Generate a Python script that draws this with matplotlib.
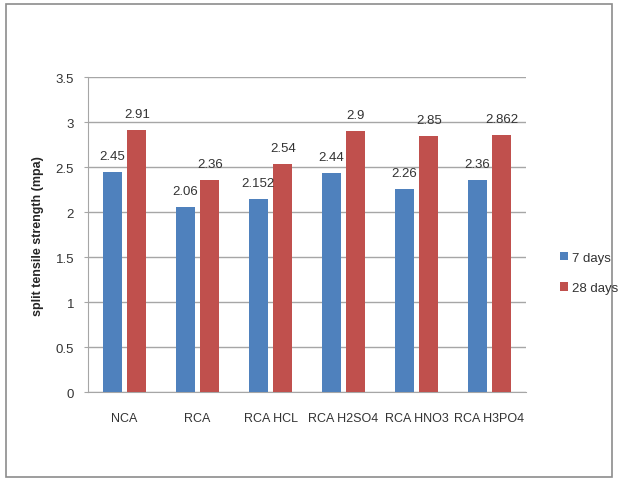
import matplotlib.pyplot as plt
import matplotlib.patches as mpatches
import numpy as np

# datos
categorias = ['NCA', 'RCA', 'RCA HCL', 'RCA H2SO4', 'RCA HNO3', 'RCA H3PO4']
dias_7 = [2.45, 2.06, 2.152, 2.44, 2.26, 2.36]
dias_28 = [2.91, 2.36, 2.54, 2.9, 2.85, 2.862]
etiquetas_7 = ['2.45', '2.06', '2.152', '2.44', '2.26', '2.36']
etiquetas_28 = ['2.91', '2.36', '2.54', '2.9', '2.85', '2.862']
yticks = [0, 0.5, 1, 1.5, 2, 2.5, 3, 3.5]
ytick_labels = ['0', '0.5', '1', '1.5', '2', '2.5', '3', '3.5']

azul = '#4F81BD'
rojo = '#C0504D'
gris = '#A6A6A6'
texto = '#333333'

plt.rcParams['font.family'] = ['Liberation Sans', 'DejaVu Sans']

fig = plt.figure(figsize=(6.18, 4.85), dpi=100)
fig.patch.set_facecolor('white')

# marco exterior del grafico
marco = mpatches.Rectangle((6 / 618, 1 - 478 / 485), 606 / 618, 473 / 485,
                           transform=fig.transFigure, fill=False,
                           edgecolor='#8C8C8C', linewidth=1.2)
fig.patches.append(marco)

ax = fig.add_axes([88 / 618, 1 - 393.3 / 485, 438 / 618, 315 / 485])

x = np.arange(len(categorias))
ancho = 0.26
desp = 0.17
b1 = ax.bar(x - desp, dias_7, ancho, color=azul, label='7 days', zorder=3)
b2 = ax.bar(x + desp, dias_28, ancho, color=rojo, label='28 days', zorder=3)

for rect, txt in zip(b1, etiquetas_7):
    ax.annotate(txt, (rect.get_x() + rect.get_width() / 2, rect.get_height()),
                xytext=(0, 10), textcoords='offset pixels',
                ha='center', va='bottom', fontsize=9.5, color=texto)
for rect, txt in zip(b2, etiquetas_28):
    ax.annotate(txt, (rect.get_x() + rect.get_width() / 2, rect.get_height()),
                xytext=(0, 10), textcoords='offset pixels',
                ha='center', va='bottom', fontsize=9.5, color=texto)

ax.set_xlim(-0.5, len(categorias) - 0.5)
ax.set_ylim(0, 3.5)
ax.set_yticks(yticks)
ax.set_yticklabels(ytick_labels)
ax.set_xticks(x)
ax.set_xticklabels(categorias)

ax.yaxis.grid(True, color=gris, linewidth=1, zorder=0)
ax.set_axisbelow(True)
for lado in ['top', 'right']:
    ax.spines[lado].set_visible(False)
ax.spines['left'].set_color(gris)
ax.spines['bottom'].set_color(gris)
ax.tick_params(axis='y', length=3, color=gris, pad=7, labelsize=9.5, labelcolor=texto)
ax.tick_params(axis='x', length=0, pad=14, labelsize=9, labelcolor=texto)

fig.text(38 / 618, 1 - 236 / 485, 'split tensile strength (mpa)', rotation=90,
         ha='center', va='center', fontsize=9, fontweight='bold', color='#262626')

fig.legend(handles=[b1, b2], loc='center left',
           bbox_to_anchor=(548 / 618, 1 - 274 / 485),
           frameon=False, fontsize=9.5, handlelength=0.6, handleheight=0.6,
           handletextpad=0.3, labelspacing=1.4, labelcolor=texto)

fig.savefig('out.png', dpi=100)
